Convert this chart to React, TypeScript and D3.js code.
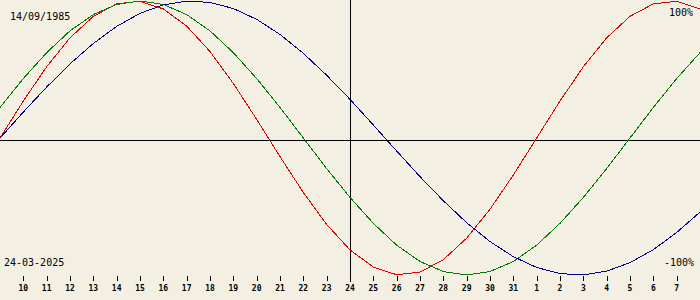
import React from "react";
import * as d3 from "d3";

const dayLabels = [9, 10, 11, 12, 13, 14, 15, 16, 17, 18, 19, 20, 21, 22, 23, 24, 25, 26, 27, 28, 29, 30, 31, 1, 2, 3, 4, 5, 6, 7, 8];
const physical = [0, 27.0, 52.0, 73.1, 88.8, 97.9, 99.8, 94.2, 81.7, 63.1, 39.8, 13.6, -13.6, -39.8, -63.1, -81.7, -94.2, -99.8, -97.9, -88.8, -73.1, -52.0, -27.0, 0, 27.0, 52.0, 73.1, 88.8, 97.9, 99.8, 94.2];
const emotional = [22.3, 43.4, 62.3, 78.2, 90.1, 97.5, 100, 97.5, 90.1, 78.2, 62.3, 43.4, 22.3, 0, -22.3, -43.4, -62.3, -78.2, -90.1, -97.5, -100, -97.5, -90.1, -78.2, -62.3, -43.4, -22.3, 0, 22.3, 43.4, 62.3];
const intellectual = [0, 18.9, 37.2, 54.1, 69.0, 81.5, 91.0, 97.2, 99.9, 99.0, 94.5, 86.6, 75.6, 61.8, 45.8, 28.2, 9.5, -9.5, -28.2, -45.8, -61.8, -75.6, -86.6, -94.5, -99.0, -99.9, -97.2, -91.0, -81.5, -69.0, -54.1];
const birthLabel = "14/09/1985";
const dateLabel = "24-03-2025";
const topLabel = "100%";
const bottomLabel = "-100%";

const W = 700;
const H = 300;

export default function App() {
  const x = d3.scaleLinear().domain([0, dayLabels.length - 1]).range([0, W]);
  const y = d3.scaleLinear().domain([-100, 100]).range([275, 1]);
  const line = d3
    .line<number>()
    .x((_, i) => x(i))
    .y((v) => y(v))
    .curve(d3.curveLinear);
  const series = [
    { data: physical, color: "#e00000" },
    { data: emotional, color: "#007a00" },
    { data: intellectual, color: "#000088" },
  ];
  const mid = Math.floor(dayLabels.length / 2);
  const mono = "'DejaVu Sans Mono', monospace";
  return (
    <svg
      width={W}
      height={H}
      style={{ position: "absolute", left: 0, top: 0, background: "#f3efe3" }}
    >
      <rect x={0} y={0} width={W} height={H} fill="#f3efe3" />
      <line x1={0} x2={W} y1={140.5} y2={140.5} stroke="#000" strokeWidth={1} shapeRendering="crispEdges" />
      <line x1={x(mid) + 0.5} x2={x(mid) + 0.5} y1={0} y2={282} stroke="#000" strokeWidth={1} shapeRendering="crispEdges" />
      {dayLabels.map((d, i) =>
        i === 0 || i === dayLabels.length - 1 ? null : (
          <g key={i}>
            <line
              x1={Math.round(x(i)) + 0.5}
              x2={Math.round(x(i)) + 0.5}
              y1={276}
              y2={281}
              stroke="#000"
              strokeWidth={1}
              shapeRendering="crispEdges"
            />
            <text
              x={x(i)}
              y={291}
              textAnchor="middle"
              fontFamily={mono}
              fontWeight="bold"
              fontSize={8}
              fill="#000"
            >
              {d}
            </text>
          </g>
        )
      )}
      {series.map((s, i) => (
        <path
          key={i}
          d={line(s.data) || ""}
          fill="none"
          stroke={s.color}
          strokeWidth={1}
          shapeRendering="crispEdges"
        />
      ))}
      <text x={10} y={20} fontFamily={mono} fontSize={10} fill="#000">
        {birthLabel}
      </text>
      <text x={4} y={266} fontFamily={mono} fontSize={10} fill="#000">
        {dateLabel}
      </text>
      <text x={693} y={16} textAnchor="end" fontFamily={mono} fontSize={10} fill="#000">
        {topLabel}
      </text>
      <text x={694} y={266} textAnchor="end" fontFamily={mono} fontSize={10} fill="#000">
        {bottomLabel}
      </text>
    </svg>
  );
}
